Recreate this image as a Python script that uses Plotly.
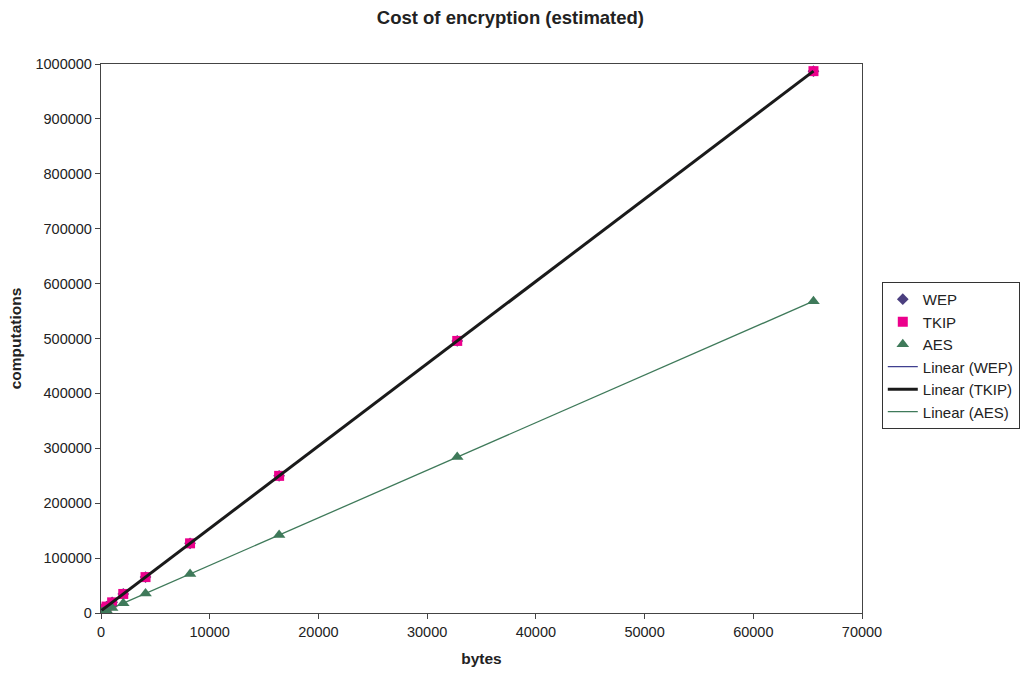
import numpy as np
import plotly.graph_objects as go

# message sizes in bytes
bytes_sizes = [64, 128, 256, 512, 1024, 2048, 4096, 8192, 16384, 32768, 65536]

# estimated computations per algorithm
wep = [5000, 6000, 7900, 11700, 19400, 34700, 65400, 126900, 249800, 495600, 987000]
tkip = [5000, 6000, 7900, 11700, 19400, 34700, 65400, 126900, 249800, 495600, 987000]
aes = [560, 1100, 2200, 4450, 8900, 17800, 35500, 71000, 142000, 284000, 568000]

FONT = "Liberation Sans, Arial, sans-serif"
TEXT = "#222222"

fig = go.Figure()

series = [
    ("WEP", wep, "diamond", "#4B3F7F", 9, "#3F3F8F", 1.3),
    ("TKIP", tkip, "square", "#EC008C", 10, "#1A1A1A", 3),
    ("AES", aes, "triangle-up", "#3F7A5A", 11, "#3F7A5A", 1.3),
]

for name, vals, sym, col, size, _, _ in series:
    fig.add_trace(go.Scatter(
        x=bytes_sizes, y=vals, mode="markers", name=name,
        marker=dict(symbol=sym, color=col, size=size),
    ))

# least-squares linear trendlines over the data range
xs = np.array(bytes_sizes, dtype=float)
for name, vals, _, _, _, lcol, lw in series:
    slope, intercept = np.polyfit(xs, np.array(vals, dtype=float), 1)
    xr = np.array([xs.min(), xs.max()])
    fig.add_trace(go.Scatter(
        x=xr, y=slope * xr + intercept, mode="lines",
        name=f"Linear ({name})", line=dict(color=lcol, width=lw),
    ))

axis_common = dict(
    showgrid=False, zeroline=False, showline=True, linecolor="#444444",
    linewidth=1.3, mirror=True, ticks="outside", ticklen=5,
    tickcolor="#444444", tickfont=dict(family=FONT, size=14.5, color=TEXT),
)

fig.update_layout(
    width=1027, height=675,
    margin=dict(l=101, r=165, t=64, b=62, autoexpand=False),
    paper_bgcolor="white", plot_bgcolor="white",
    title=dict(text="<b>Cost of encryption (estimated)</b>", x=0.497, xanchor="center",
               y=0.974, yanchor="middle",
               font=dict(family=FONT, size=18.5, color=TEXT)),
    xaxis=dict(range=[0, 70000], dtick=10000, tickformat="d",
               title=dict(text="<b>bytes</b>", font=dict(family=FONT, size=15.5, color=TEXT),
                          standoff=14),
               **axis_common),
    yaxis=dict(range=[0, 1000000], dtick=100000, tickformat="d",
               title=dict(text="<b>computations</b>", font=dict(family=FONT, size=15.5, color=TEXT),
                          standoff=10),
               **axis_common),
    legend=dict(x=1.026, y=0.603, xanchor="left", yanchor="top",
                bordercolor="#333333", borderwidth=1, bgcolor="white",
                font=dict(family=FONT, size=15, color=TEXT),
                itemwidth=30),
    showlegend=True,
)

fig.write_html("out.html")
